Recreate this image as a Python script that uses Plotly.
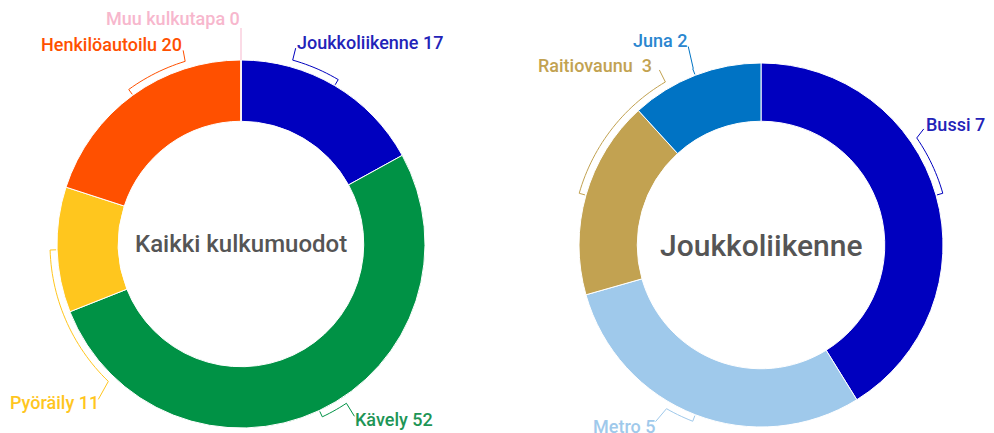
import math
import plotly.graph_objects as go

# ---------------- data ----------------
LEFT_TITLE = "Kaikki kulkumuodot"
LEFT_LABELS = ["Joukkoliikenne", "Kävely", "Pyöräily", "Henkilöautoilu", "Muu kulkutapa"]
LEFT_VALUES = [17, 52, 11, 20, 0]

RIGHT_TITLE = "Joukkoliikenne"
RIGHT_LABELS = ["Bussi", "Metro", "Raitiovaunu", "Juna"]
RIGHT_VALUES = [7, 5, 3, 2]

# ---------------- styles / layout ----------------
W, H = 994, 433
LEFT_COLORS = ["#0000BF", "#009245", "#FFC61E", "#FF5000", "#F7B7CD"]
RIGHT_COLORS = ["#0000BF", "#9FC9EB", "#C2A251", "#0073C4"]
LEFT_TEXT_COLORS = ["#2323B8", "#1E9556", "#FFC61E", "#FF5000", "#F7B7CD"]
RIGHT_TEXT_COLORS = ["#2323B8", "#9FC9EB", "#C2A251", "#2A86CF"]

LEFT_GEOM = dict(cx=241, cy=244, r=184, hole=0.667)
RIGHT_GEOM = dict(cx=761, cy=245, r=182, hole=0.68)

# per label: anchor angle on bracket (deg clockwise from top), leader end offset, text offset, xanchor, separator
LEFT_LABEL_LAYOUT = [
    (15.7, 3, -12, 0, -6, "left", " "),
    (146.5, 8, 13, 0, 3, "left", " "),
    (224.0, -10, 18, 2, 3, "right", " "),
    (343.0, -2, -11, 0, -6, "right", " "),
    (0.0, 0, -32, 0, -10, "right", " "),
]
RIGHT_LABEL_LAYOUT = [
    (55.5, 7, -9, 1, -4, "left", " "),
    (210.0, -11, 13, 0, 5, "right", " "),
    (329.6, -6, -12, -6, -4, "right", "\u00a0\u00a0"),
    (339.0, -5, -22, 0, -6, "right", " "),
]
BRACKET_GAP = 7
TICK_LEN = 6
LABEL_FONT = dict(family="Roboto", size=18, weight=500)
TITLE_COLOR = "#555555"


def domain_of(g):
    return dict(
        x=[(g["cx"] - g["r"]) / W, (g["cx"] + g["r"]) / W],
        y=[1 - (g["cy"] + g["r"]) / H, 1 - (g["cy"] - g["r"]) / H],
    )


def point(g, ang_deg, rad):
    a = math.radians(ang_deg)
    return g["cx"] + rad * math.sin(a), g["cy"] - rad * math.cos(a)


fig = go.Figure()

shapes = []
annotations = []


def add_donut(labels, values, colors, text_colors, g, layout_rows, title, title_size):
    fig.add_trace(go.Pie(
        labels=labels, values=values, sort=False, direction="clockwise", rotation=0,
        hole=g["hole"], domain=domain_of(g), textinfo="none", showlegend=False,
        marker=dict(colors=colors, line=dict(color="white", width=1)),
        hovertemplate="%{label}: %{value}<extra></extra>",
    ))
    total = sum(values)
    cum = 0
    for lab, v, col, tcol, row in zip(labels, values, colors, text_colors, layout_rows):
        mid = (cum + v / 2) / total * 360
        cum += v
        anchor_ang, ldx, ldy, tdx, tdy, xanchor, sep = row
        rb = g["r"] + BRACKET_GAP
        # arc from slice middle to the anchor angle, with inward tick at slice middle
        pts = [point(g, mid, g["r"] + BRACKET_GAP - TICK_LEN)]
        n = max(2, int(abs(anchor_ang - mid) / 1.5) + 2)
        for i in range(n + 1):
            a = mid + (anchor_ang - mid) * i / n
            pts.append(point(g, a, rb))
        ax, ay = pts[-1]
        if v == 0:
            pts = [point(g, anchor_ang, g["r"])]
            ax, ay = pts[0]
        ex, ey = ax + ldx, ay + ldy
        pts.append((ex, ey))
        path = "M " + " L ".join(f"{x:.2f},{y:.2f}" for x, y in pts)
        shapes.append(dict(type="path", path=path, xref="x", yref="y",
                           line=dict(color=col, width=1), layer="above"))
        annotations.append(dict(
            x=ex + tdx, y=ey + tdy, xref="x", yref="y", showarrow=False,
            text=f"{lab}{sep}{v}", xanchor=xanchor, yanchor="middle",
            font=dict(color=tcol, **LABEL_FONT), borderpad=0,
        ))
    annotations.append(dict(
        x=g["cx"], y=g["cy"], xref="x", yref="y", showarrow=False, text=title,
        xanchor="center", yanchor="middle",
        font=dict(family="Roboto", size=title_size, color=TITLE_COLOR, weight=500),
    ))


add_donut(LEFT_LABELS, LEFT_VALUES, LEFT_COLORS, LEFT_TEXT_COLORS, LEFT_GEOM,
          LEFT_LABEL_LAYOUT, LEFT_TITLE, 24)
add_donut(RIGHT_LABELS, RIGHT_VALUES, RIGHT_COLORS, RIGHT_TEXT_COLORS, RIGHT_GEOM,
          RIGHT_LABEL_LAYOUT, RIGHT_TITLE, 30)

fig.update_layout(
    width=W, height=H, margin=dict(l=0, r=0, t=0, b=0),
    paper_bgcolor="white", plot_bgcolor="rgba(0,0,0,0)",
    xaxis=dict(range=[0, W], visible=False, fixedrange=True, domain=[0, 1]),
    yaxis=dict(range=[H, 0], visible=False, fixedrange=True, domain=[0, 1]),
    shapes=shapes, annotations=annotations,
)

fig.write_html("out.html", config={"displayModeBar": False},
               post_script="document.body.style.margin='0px';")
